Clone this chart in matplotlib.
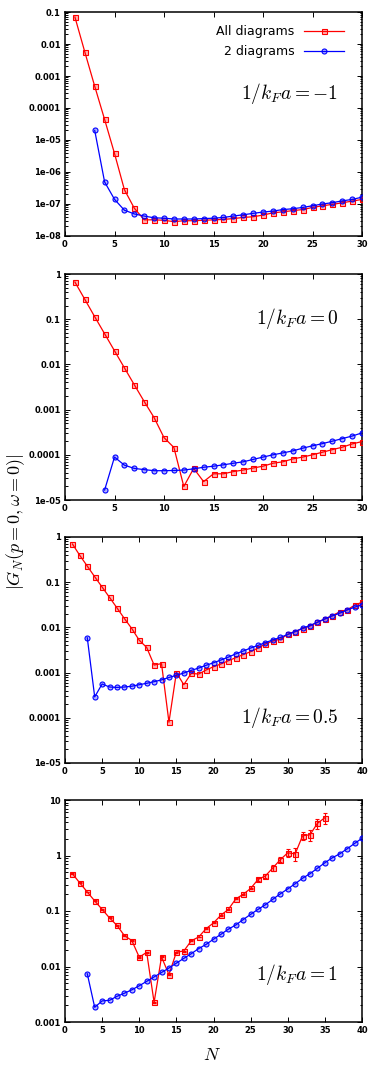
import numpy as np
import matplotlib
matplotlib.use("Agg")
import matplotlib.pyplot as plt
from matplotlib.ticker import LogLocator, NullFormatter

plt.rcParams['mathtext.fontset'] = 'cm'
plt.rcParams['font.family'] = 'DejaVu Sans'

# ---- dados ----
# painel 1: 1/kFa = -1
N1_all = np.arange(1, 31)
G1_all = [6.98e-2, 5.64e-3, 4.8e-4, 4.4e-5, 3.8e-6, 2.8e-7, 7.4e-8, 3.2e-8, 3.2e-8, 3.1e-8,
          2.8e-8, 3.0e-8, 3.0e-8, 3.1e-8, 3.2e-8, 3.3e-8, 3.5e-8, 3.8e-8, 4.0e-8, 4.5e-8,
          5.3e-8, 5.7e-8, 6.2e-8, 6.7e-8, 7.8e-8, 8.8e-8, 9.7e-8, 1.09e-7, 1.23e-7, 1.39e-7]
N1_two = np.arange(3, 31)
G1_two = [2.0e-5, 4.9e-7, 1.4e-7, 6.4e-8, 4.9e-8, 4.2e-8, 3.7e-8, 3.6e-8, 3.4e-8, 3.4e-8,
          3.4e-8, 3.5e-8, 3.6e-8, 3.8e-8, 4.2e-8, 4.6e-8, 5.1e-8, 5.6e-8, 6.0e-8, 6.7e-8,
          7.1e-8, 7.8e-8, 8.8e-8, 1.0e-7, 1.1e-7, 1.25e-7, 1.39e-7, 1.63e-7]

# painel 2: 1/kFa = 0
N2_all = np.arange(1, 31)
G2_all = [0.665, 0.275, 0.1135, 0.0477, 0.020, 0.0084, 0.00354, 0.00151, 6.65e-4, 2.4e-4,
          1.45e-4, 1.99e-5, 5.0e-5, 2.55e-5, 3.8e-5, 3.8e-5, 4.25e-5, 4.6e-5, 5.1e-5, 5.6e-5,
          6.5e-5, 7.0e-5, 8.1e-5, 8.9e-5, 1.0e-4, 1.14e-4, 1.3e-4, 1.47e-4, 1.74e-4, 1.96e-4]
N2_two = np.arange(4, 31)
G2_two = [1.66e-5, 8.9e-5, 5.9e-5, 5.0e-5, 4.7e-5, 4.45e-5, 4.45e-5, 4.5e-5, 4.6e-5, 4.9e-5,
          5.3e-5, 5.6e-5, 6.0e-5, 6.5e-5, 7.0e-5, 7.9e-5, 8.9e-5, 1.0e-4, 1.1e-4, 1.22e-4,
          1.4e-4, 1.58e-4, 1.77e-4, 2.0e-4, 2.28e-4, 2.6e-4, 3.05e-4]

# painel 3: 1/kFa = 0.5
N3_all = np.arange(1, 41)
G3_all = [0.70, 0.39, 0.227, 0.132, 0.078, 0.046, 0.027, 0.0157, 0.0094, 0.0052,
          0.0036, 0.00147, 0.00158, 8.0e-5, 0.00100, 5.4e-4, 9.6e-4, 9.3e-4, 0.00114, 0.00135,
          0.00155, 0.00183, 0.00214, 0.0025, 0.0029, 0.0035, 0.0043, 0.0050, 0.0055, 0.0070,
          0.0081, 0.0094, 0.0108, 0.0130, 0.0154, 0.0183, 0.022, 0.0244, 0.031, 0.036]
N3_two = np.arange(3, 41)
G3_two = [0.0059, 2.9e-4, 5.6e-4, 4.8e-4, 4.7e-4, 4.8e-4, 5.0e-4, 5.4e-4, 5.8e-4, 6.3e-4,
          6.9e-4, 7.8e-4, 8.7e-4, 9.8e-4, 0.00112, 0.00126, 0.00145, 0.00165, 0.0019, 0.0022,
          0.0026, 0.0030, 0.0035, 0.0040, 0.0046, 0.0053, 0.0060, 0.0070, 0.0081, 0.0096,
          0.011, 0.013, 0.0154, 0.018, 0.0206, 0.0244, 0.028, 0.032]

# painel 4: 1/kFa = 1
N4_all = np.arange(1, 36)
G4_all = [0.468, 0.32, 0.22, 0.152, 0.107, 0.075, 0.055, 0.036, 0.0294, 0.0147,
          0.018, 0.00226, 0.0149, 0.0071, 0.0182, 0.019, 0.029, 0.034, 0.048, 0.061,
          0.084, 0.107, 0.165, 0.20, 0.255, 0.37, 0.43, 0.60, 0.84, 1.12,
          1.07, 2.27, 2.37, 3.8, 4.8]
# erro relativo (so visivel para N grande)
E4_all_rel = [0.02] * 25 + [0.08, 0.08, 0.12, 0.10, 0.15, 0.25, 0.15, 0.22, 0.22, 0.22]
N4_two = np.arange(3, 41)
G4_two = [0.0074, 0.00184, 0.0024, 0.00246, 0.0029, 0.0033, 0.0038, 0.0045, 0.0054, 0.0065,
          0.0078, 0.0094, 0.0115, 0.014, 0.017, 0.021, 0.025, 0.031, 0.038, 0.047,
          0.056, 0.070, 0.087, 0.107, 0.13, 0.163, 0.204, 0.25, 0.31, 0.39,
          0.47, 0.59, 0.74, 0.91, 1.07, 1.32, 1.65, 2.04]

rotulos = [r'$1/k_Fa=-1$', r'$1/k_Fa=0$', r'$1/k_Fa=0.5$', r'$1/k_Fa=1$']
ylims = [(1e-8, 0.1), (1e-5, 1), (1e-5, 1), (1e-3, 10)]
yticks = [[1e-8, 1e-7, 1e-6, 1e-5, 1e-4, 1e-3, 1e-2, 1e-1],
          [1e-5, 1e-4, 1e-3, 1e-2, 1e-1, 1],
          [1e-5, 1e-4, 1e-3, 1e-2, 1e-1, 1],
          [1e-3, 1e-2, 1e-1, 1, 10]]
ytick_labels = [['1e-08', '1e-07', '1e-06', '1e-05', '0.0001', '0.001', '0.01', '0.1'],
                ['1e-05', '0.0001', '0.001', '0.01', '0.1', '1'],
                ['1e-05', '0.0001', '0.001', '0.01', '0.1', '1'],
                ['0.001', '0.01', '0.1', '1', '10']]
xmax = [30, 30, 40, 40]
texto_pos = [(0.92, 0.634), (0.92, 0.805), (0.92, 0.20), (0.92, 0.216)]

dados = [
    (N1_all, G1_all, None, N1_two, G1_two),
    (N2_all, G2_all, None, N2_two, G2_two),
    (N3_all, G3_all, None, N3_two, G3_two),
    (N4_all, G4_all, np.array(G4_all) * np.array(E4_all_rel), N4_two, G4_two),
]

# posicao dos eixos em pixels (topo, base)
W, H = 375, 1067
caixas = [(12, 236), (274, 500), (537, 763), (800, 1022)]
x0, x1 = 65, 362

fig = plt.figure(figsize=(W / 100, H / 100), dpi=100)
vermelho = '#ff0000'
azul = '#0000ff'

for i, (topo, base) in enumerate(caixas):
    ax = fig.add_axes([x0 / W, 1 - base / H, (x1 - x0) / W, (base - topo) / H])
    Na, Ga, Ea, Nt, Gt = dados[i]
    h1 = ax.errorbar(Na, Ga, yerr=Ea, color=vermelho, lw=0.9, marker='s', ms=3.6,
                     mfc=(1, 0, 0, 0.3), mec=vermelho, mew=0.8, elinewidth=0.8,
                     capsize=1.5, label='All diagrams', zorder=3)
    h2, = ax.plot(Nt, Gt, color=azul, lw=0.9, marker='o', ms=3.6,
                  mfc=(0, 0, 1, 0.3), mec=azul, mew=0.8, label='2 diagrams', zorder=4)
    ax.set_yscale('log')
    ax.set_ylim(*ylims[i])
    ax.set_xlim(0, xmax[i])
    ax.set_xticks(np.arange(0, xmax[i] + 1, 5))
    ax.set_yticks(yticks[i], ytick_labels[i])
    ax.yaxis.set_minor_locator(LogLocator(base=10, subs=np.arange(2, 10), numticks=20))
    ax.yaxis.set_minor_formatter(NullFormatter())
    ax.tick_params(which='both', direction='in', top=True, right=True,
                   labelsize=6, width=0.7, pad=3)
    ax.tick_params(which='major', length=3.5)
    ax.tick_params(which='minor', length=1.8)
    for lbl in ax.get_xticklabels() + ax.get_yticklabels():
        lbl.set_fontweight('bold')
    for s in ax.spines.values():
        s.set_linewidth(1.1)
    ax.text(texto_pos[i][0], texto_pos[i][1], rotulos[i], transform=ax.transAxes,
            ha='right', va='center', fontsize=14)
    if i == 0:
        ax.legend([h1[0], h2], ['All diagrams', '2 diagrams'], loc='upper right',
                  frameon=False, markerfirst=False, fontsize=9,
                  handlelength=3.2, borderaxespad=0.3, labelspacing=0.55,
                  bbox_to_anchor=(0.97, 0.98))
        for t in ax.get_legend().get_texts():
            t.set_ha('right')

fig.text(0.042, 0.511, r'$|G_N(p=0,\omega=0)|$', rotation=90, ha='center', va='center',
         fontsize=13)
fig.text(0.566, 0.011, r'$N$', ha='center', va='center', fontsize=13)

fig.savefig('out.png', dpi=100)
